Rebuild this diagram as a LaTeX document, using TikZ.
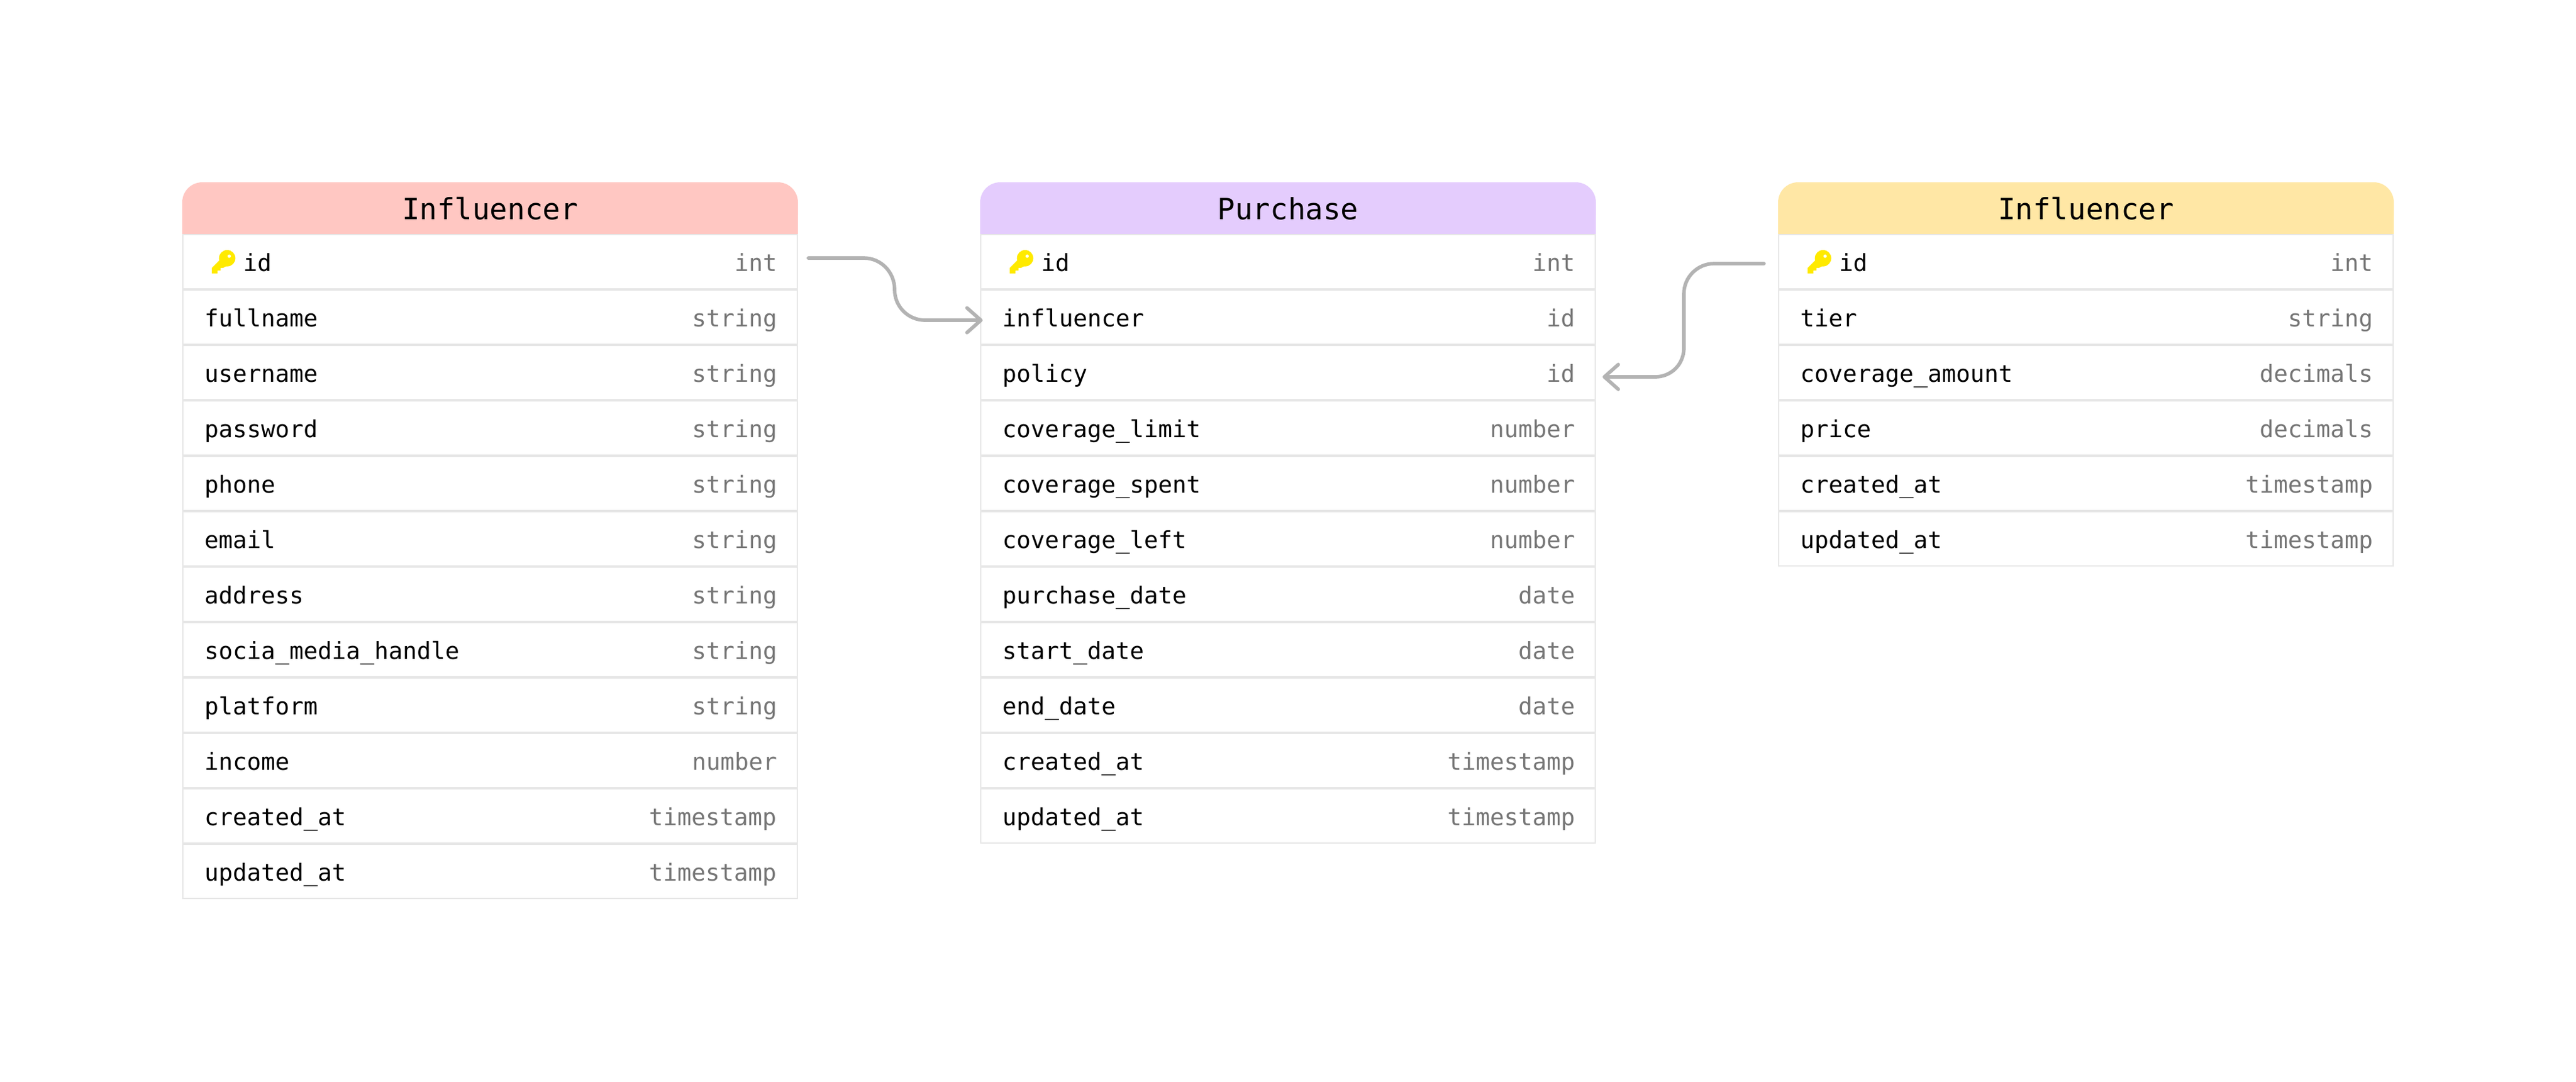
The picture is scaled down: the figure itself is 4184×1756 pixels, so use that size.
\documentclass[tikz,border=0pt]{standalone}
\usepackage{fontspec}
\setmainfont{DejaVu Sans Mono}
\usetikzlibrary{arrows.meta,calc}
\definecolor{linegray}{HTML}{E6E6E6}
\definecolor{typegray}{HTML}{767676}
\definecolor{connGray}{HTML}{B3B3B3}
\definecolor{headPink}{HTML}{FFC7C2}
\definecolor{headPurple}{HTML}{E4CCFD}
\definecolor{headYellow}{HTML}{FFE7A5}
\definecolor{keyYellow}{HTML}{FFEA00}
\tikzset{
  x=0.24pt,y=-0.24pt,
  rowbox/.style={draw=linegray,line width=0.48pt,fill=white,minimum width=239.52pt,minimum height=21.12pt,inner sep=0pt,outer sep=0pt},
  fieldtext/.style={anchor=base west,inner sep=0pt,outer sep=0pt,text=black,font=\fontsize{9.17pt}{11pt}\selectfont},
  typetext/.style={anchor=base east,inner sep=0pt,outer sep=0pt,text=typegray,font=\fontsize{9.17pt}{11pt}\selectfont},
  titletext/.style={anchor=base,inner sep=0pt,outer sep=0pt,text=black,font=\fontsize{11.4pt}{13pt}\selectfont},
  conn/.style={draw=connGray,line width=1.38pt,line cap=round,line join=round,-{Straight Barb[length=5.4pt,width=9.6pt,round]}},
}
% \tablehead{id}{left}{colour}{title}
\newcommand{\tablehead}[4]{%
  \fill[#3,rounded corners=7.8pt] (#2,381) -- (#2,296) -- (#2+1000,296) -- (#2+1000,381) -- cycle;
  \fill[#3] (#2,350) rectangle (#2+1000,380);
  \node[titletext] (#1h) at (#2+500,356) {#4};
}
% \tablerow{id}{left}{k}{field}{type}
\newcommand{\tablerow}[5]{%
  \node[rowbox] (#1r#3) at (#2+500,425+90*#3-90) {};
  \node[fieldtext] (#1f#3) at (#2+36,440+90*#3-90) {#4};
  \node[typetext] (#1t#3) at (#2+966,440+90*#3-90) {#5};
}
% \keyrow{id}{left}{type}
\newcommand{\keyrow}[3]{%
  \node[rowbox] (#1r1) at (#2+500,425) {};
  \fill[keyYellow] (#2+48,444) -- (#2+48,435) -- (#2+62,421) -- (#2+72,432) -- (#2+66.3,435) -- (#2+62.3,435) -- (#2+62.3,439.3) -- (#2+57.3,439.3) -- (#2+57.3,444) -- cycle;
  \fill[keyYellow] (#2+73,419.3) circle[radius=3.2pt];
  \fill[white] (#2+76.3,416) circle[radius=0.65pt];
  \node[fieldtext] (#1f1) at (#2+99,440) {id};
  \node[typetext] (#1t1) at (#2+966,440) {#3};
}
\begin{document}
\begin{tikzpicture}
\useasboundingbox (0,0) rectangle (4184,1756);
\fill[white] (0,0) rectangle (4184,1756);
% Table 1
\tablehead{a}{296}{headPink}{Influencer}
\keyrow{a}{296}{int}
\tablerow{a}{296}{2}{fullname}{string}
\tablerow{a}{296}{3}{username}{string}
\tablerow{a}{296}{4}{password}{string}
\tablerow{a}{296}{5}{phone}{string}
\tablerow{a}{296}{6}{email}{string}
\tablerow{a}{296}{7}{address}{string}
\tablerow{a}{296}{8}{socia\_media\_handle}{string}
\tablerow{a}{296}{9}{platform}{string}
\tablerow{a}{296}{10}{income}{number}
\tablerow{a}{296}{11}{created\_at}{timestamp}
\tablerow{a}{296}{12}{updated\_at}{timestamp}
% Table 2
\tablehead{b}{1592}{headPurple}{Purchase}
\keyrow{b}{1592}{int}
\tablerow{b}{1592}{2}{influencer}{id}
\tablerow{b}{1592}{3}{policy}{id}
\tablerow{b}{1592}{4}{coverage\_limit}{number}
\tablerow{b}{1592}{5}{coverage\_spent}{number}
\tablerow{b}{1592}{6}{coverage\_left}{number}
\tablerow{b}{1592}{7}{purchase\_date}{date}
\tablerow{b}{1592}{8}{start\_date}{date}
\tablerow{b}{1592}{9}{end\_date}{date}
\tablerow{b}{1592}{10}{created\_at}{timestamp}
\tablerow{b}{1592}{11}{updated\_at}{timestamp}
% Table 3
\tablehead{c}{2888}{headYellow}{Influencer}
\keyrow{c}{2888}{int}
\tablerow{c}{2888}{2}{tier}{string}
\tablerow{c}{2888}{3}{coverage\_amount}{decimals}
\tablerow{c}{2888}{4}{price}{decimals}
\tablerow{c}{2888}{5}{created\_at}{timestamp}
\tablerow{c}{2888}{6}{updated\_at}{timestamp}
% Connectors
\coordinate (s1) at ($(ar1.east)+(18,-6)$);
\coordinate (e1) at ($(br2.west)+(3,5)$);
\coordinate (m1) at (1453,470);
\coordinate (s2) at ($(cr1.west)+(-24,3)$);
\coordinate (e2) at ($(br3.east)+(12,7)$);
\coordinate (m2a) at (2735,477);
\coordinate (m2b) at (2735,565);
\draw[conn] (s1) -- ($(m1)+(-50,-51)$) .. controls ($(m1)+(-22,-51)$) and ($(m1)+(0,-28)$) .. (m1) .. controls ($(m1)+(0,28)$) and ($(m1)+(22,50)$) .. ($(m1)+(50,50)$) -- (e1);
\draw[conn] (s2) -- ($(m2a)+(49,-49)$) .. controls ($(m2a)+(22,-49)$) and ($(m2a)+(0,-27)$) .. (m2a) -- (m2b) .. controls ($(m2b)+(0,26)$) and ($(m2b)+(-20,47)$) .. ($(m2b)+(-47,47)$) -- (e2);
\end{tikzpicture}
\end{document}
